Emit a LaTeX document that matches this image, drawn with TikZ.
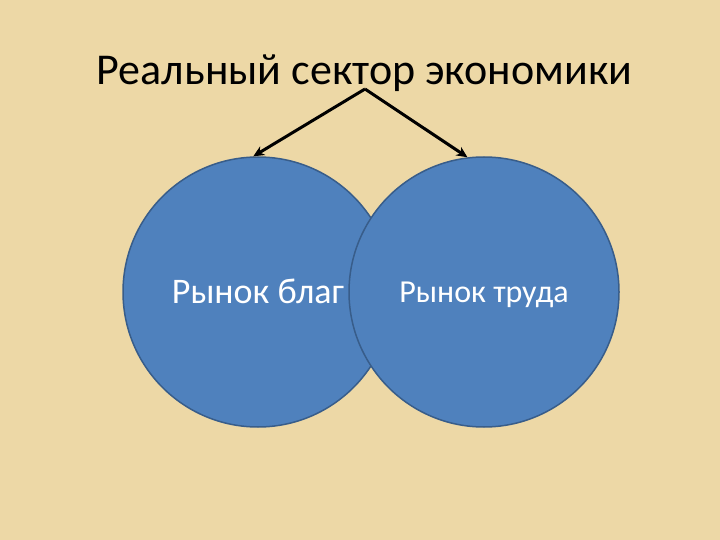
\documentclass[tikz,border=0pt]{standalone}
\usepackage{fontspec}
\setmainfont{Carlito}
\usetikzlibrary{arrows.meta}

\definecolor{paper}{RGB}{237,216,166}
\definecolor{ballfill}{RGB}{79,129,189}
\definecolor{ballline}{RGB}{56,93,138}

\begin{document}
\begin{tikzpicture}[x=1pt, y=-1pt,
    market/.style={circle, fill=ballfill, draw=ballline, line width=1.5pt,
                   minimum size=270pt, inner sep=0pt, text=white,
                   text height=22pt, text depth=0pt,
                   font=\fontsize{36}{42}\selectfont},
    link/.style={-{Stealth[length=11pt, width=10pt]}, line width=3pt, black}]
    % Background sheet
    \fill[paper] (0,0) rectangle (720,540);
    \useasboundingbox (0,0) rectangle (720,540);

    % Title
    \node[anchor=base, font=\fontsize{44}{52}\selectfont] (title) at (364.5,85)
        {Реальный сектор экономики};
    \coordinate (apex) at (365,89);

    % Two markets (right one drawn on top)
    \node[market] (goods) at (258,292) {Рынок благ};
    \node[market, font=\fontsize{32}{38}\selectfont, text height=21pt]
        (labour) at (484,292) {Рынок труда};

    % Arrows from the title
    \draw[link] (apex) -- (goods.92);
    \draw[link] (apex) -- (labour.97);
\end{tikzpicture}
\end{document}
